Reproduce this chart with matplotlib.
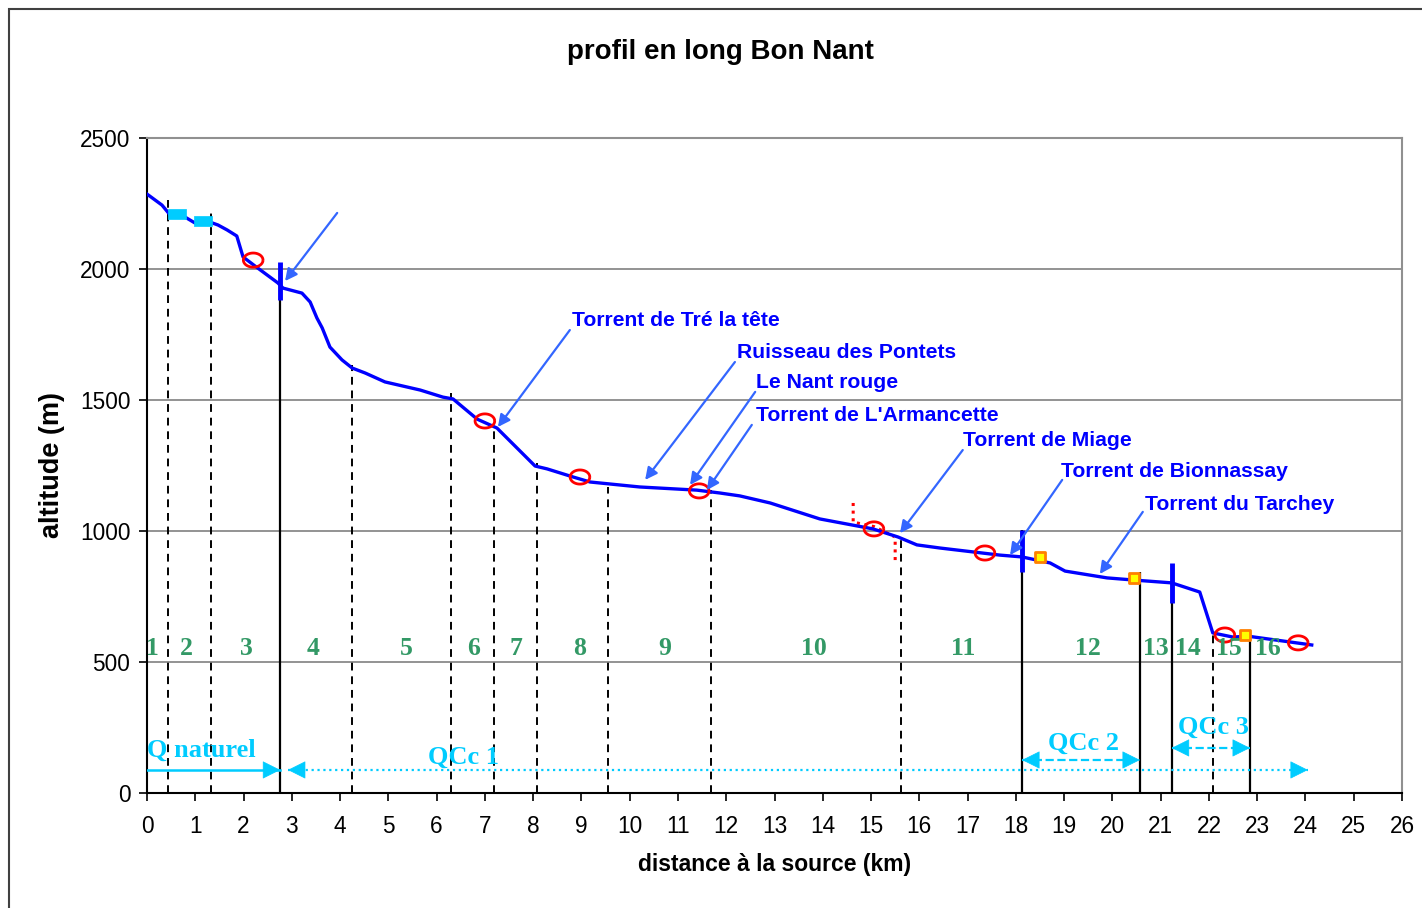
import matplotlib
matplotlib.use("Agg")
import matplotlib.pyplot as plt
from matplotlib.path import Path
from matplotlib.patches import Rectangle
import numpy as np

# ---------------- data ----------------
prof_x = [0.00, 0.31, 0.48, 0.79, 0.99, 1.35, 1.47, 1.66, 1.86, 1.99, 2.24, 2.71, 2.82,
          3.21, 3.38, 3.52, 3.63, 3.79, 4.04, 4.25, 4.52, 4.93, 5.66, 6.13, 6.34, 6.84,
          7.25, 8.04, 8.29, 8.83, 9.18, 10.21, 11.39, 11.87, 12.28, 12.91, 13.94, 15.04,
          15.56, 15.95, 16.43, 17.67, 18.13, 18.71, 19.02, 19.89, 20.43, 21.23, 21.81,
          22.08, 22.50, 22.79, 24.13]
prof_y = [2286, 2244, 2206, 2198, 2176, 2176, 2168, 2149, 2126, 2046, 2011, 1947, 1927,
          1908, 1874, 1813, 1775, 1702, 1653, 1622, 1603, 1569, 1538, 1511, 1504, 1427,
          1393, 1248, 1237, 1206, 1187, 1168, 1156, 1145, 1134, 1107, 1046, 1008,
          977, 947, 935, 908, 901, 878, 847, 821, 813, 802, 767,
          611, 595, 599, 565]

circle_x = [2.20, 7.00, 8.97, 11.44, 15.06, 17.36, 22.33, 23.85]
circle_y = [2034, 1420, 1206, 1153, 1008, 916, 603, 573]

cyan_rect_x = [0.62, 1.16]
cyan_rect_y = [2210, 2183]

orange_sq_x = [18.50, 20.45, 22.75]
orange_sq_y = [901, 821, 603]

dashed_x = [0.44, 1.33, 4.25, 6.30, 7.19, 8.08, 9.55, 11.68, 15.62, 22.08]
dashed_top = [2263, 2214, 1634, 1527, 1385, 1260, 1168, 1156, 966, 611]

solid_x = [2.76, 18.13, 20.57, 21.23, 22.85]
solid_top = [1882, 1004, 843, 737, 611]

bar_x = [2.76, 18.13, 21.23]
bar_bottom = [1882, 843, 725]
bar_top = [2027, 1004, 878]

bracket_x = [14.63, 14.63, 15.06, 15.50, 15.50]
bracket_y = [1107, 1034, 1017, 977, 889]

seg_labels = [str(i) for i in range(1, 17)]
seg_x = [0.12, 0.81, 2.07, 3.44, 5.37, 6.77, 7.64, 8.97, 10.73, 13.82, 16.90, 19.49,
         20.90, 21.57, 22.42, 23.22]
seg_y = 553

trib_names = ["Torrent de Tré la tête", "Ruisseau des Pontets", "Le Nant rouge",
              "Torrent de L'Armancette", "Torrent de Miage", "Torrent de Bionnassay",
              "Torrent du Tarchey", ""]
trib_text_x = [8.80, 12.22, 12.62, 12.62, 16.90, 18.94, 20.68, 3.94]
trib_text_y = [1805, 1683, 1565, 1439, 1344, 1229, 1103, 2214]
trib_tail_x = [8.76, 12.18, 12.60, 12.53, 16.90, 18.96, 20.63, 3.94]
trib_tail_y = [1767, 1645, 1531, 1405, 1309, 1195, 1073, 2214]
trib_tip_x = [7.27, 10.32, 11.25, 11.60, 15.60, 17.88, 19.74, 2.86]
trib_tip_y = [1397, 1195, 1176, 1156, 992, 908, 836, 1954]

q_labels = ["Q naturel", "QCc 1", "QCc 2", "QCc 3"]
q_label_x = [0.0, 5.82, 18.67, 21.36]
q_label_y = [164, 137, 191, 252]
q_start = [0.0, 2.92, 18.13, 21.23]
q_end = [2.76, 24.05, 20.57, 22.85]
q_level = [88, 88, 126, 172]
q_style = ["-", ":", "--", "--"]
q_left_head = [False, True, True, True]

xticks = list(range(0, 27))
yticks = [0, 500, 1000, 1500, 2000, 2500]

# ---------------- style ----------------
SANS = ["Liberation Sans", "DejaVu Sans"]
SERIF = ["Liberation Serif", "DejaVu Serif"]
BLUE = "#0000FF"
ARROW = "#3366FF"
CYAN = "#00CCFF"
GREEN = "#339966"

fig = plt.figure(figsize=(14.22, 9.08), dpi=100)
fig.patches.append(Rectangle((9 / 1422, -0.1), 1.2, 1 - 9 / 908 + 0.1,
                             transform=fig.transFigure, fill=False,
                             edgecolor="#404040", lw=1.5))
ax = fig.add_axes([147 / 1422, 1 - 793 / 908, (1402 - 147) / 1422, (793 - 138) / 908])
ax.set_xlim(0, 26)
ax.set_ylim(0, 2500)
ax.set_xticks(xticks)
ax.set_yticks(yticks)
ax.tick_params(axis="both", direction="out", length=6, width=1.2, labelsize=16.3)
ax.tick_params(axis="x", pad=10)
ax.tick_params(axis="y", pad=6)
for lab in ax.get_xticklabels() + ax.get_yticklabels():
    lab.set_family(SANS)
for s in ["top", "right"]:
    ax.spines[s].set_color("#909090")
    ax.spines[s].set_linewidth(1.5)
for s in ["left", "bottom"]:
    ax.spines[s].set_color("black")
    ax.spines[s].set_linewidth(1.5)
ax.yaxis.grid(True, color="#808080", lw=1.2)
ax.set_axisbelow(True)

fig.text(720 / 1422, 1 - 52 / 908, "profil en long Bon Nant", fontsize=20, fontweight="bold",
         family=SANS, ha="center", va="center")
fig.text(775 / 1422, 1 - 865 / 908, "distance à la source (km)", fontsize=16.5,
         fontweight="bold", family=SANS, ha="center", va="center")
fig.text(52 / 1422, 1 - 465 / 908, "altitude (m)", fontsize=19.5, fontweight="bold",
         family=SANS, ha="center", va="center", rotation=90)

# vertical lines
ax.vlines(dashed_x, 0, dashed_top, colors="black", linestyles=(0, (4, 3)), lw=1.4, zorder=2)
ax.vlines(solid_x, 0, solid_top, colors="black", lw=1.6, zorder=2)

# profile
ax.plot(prof_x, prof_y, color=BLUE, lw=2.4, zorder=4, solid_joinstyle="round")
ax.vlines(bar_x, bar_bottom, bar_top, colors=BLUE, lw=3.5, zorder=5)

# red dotted bracket
ax.plot(bracket_x, bracket_y, color="red", lw=2.2, ls=(0, (1, 1.5)), zorder=3)

# markers
t = np.linspace(0, 2 * np.pi, 60)
ell = Path(np.column_stack([np.cos(t), 0.72 * np.sin(t)]))
ax.scatter(circle_x, circle_y, marker=ell, s=200, facecolors="none", edgecolors="red",
           linewidths=2.0, zorder=6)
rect = Path([(-1, -0.55), (1, -0.55), (1, 0.55), (-1, 0.55), (-1, -0.55)])
ax.scatter(cyan_rect_x, cyan_rect_y, marker=rect, s=180, c=CYAN, edgecolors=CYAN,
           linewidths=0.5, zorder=6)
ax.scatter(orange_sq_x, orange_sq_y, marker="s", s=55, c="#FFFF00", edgecolors="#FF8000",
           linewidths=2, zorder=6)

# segment numbers
for lab, x in zip(seg_labels, seg_x):
    ax.text(x, seg_y, lab, color=GREEN, fontsize=18.5, fontweight="bold", family=SERIF,
            ha="center", va="center", zorder=7)

# tributaries
for name, tx, ty, ax0, ay0, bx, by in zip(trib_names, trib_text_x, trib_text_y,
                                           trib_tail_x, trib_tail_y, trib_tip_x, trib_tip_y):
    ax.annotate("", xy=(bx, by), xytext=(ax0, ay0),
                arrowprops=dict(arrowstyle="-|>", color=ARROW, lw=1.6,
                                mutation_scale=18, shrinkA=0, shrinkB=0), zorder=7)
    if name:
        ax.text(tx, ty, name, color=BLUE, fontsize=15.2, fontweight="bold", family=SANS,
                ha="left", va="center", zorder=8)

# discharge arrows
head = dict(arrowstyle="-|>,head_length=0.9,head_width=0.45", color=CYAN, lw=0.5,
            mutation_scale=13, shrinkA=0, shrinkB=0)
for lab, lx, ly, x0, x1, yl, st, lh in zip(q_labels, q_label_x, q_label_y, q_start, q_end,
                                           q_level, q_style, q_left_head):
    ax.plot([x0, x1], [yl, yl], color=CYAN, lw=1.8 if st == "-" else 1.6, ls=st, zorder=5)
    ax.annotate("", xy=(x1, yl), xytext=(x1 - 0.2, yl), arrowprops=head, zorder=6)
    if lh:
        ax.annotate("", xy=(x0, yl), xytext=(x0 + 0.2, yl), arrowprops=head, zorder=6)
    ax.text(lx, ly, lab, color=CYAN, fontsize=19, fontweight="bold", family=SERIF,
            ha="left", va="center", zorder=8)

fig.savefig("out.png", dpi=100)
